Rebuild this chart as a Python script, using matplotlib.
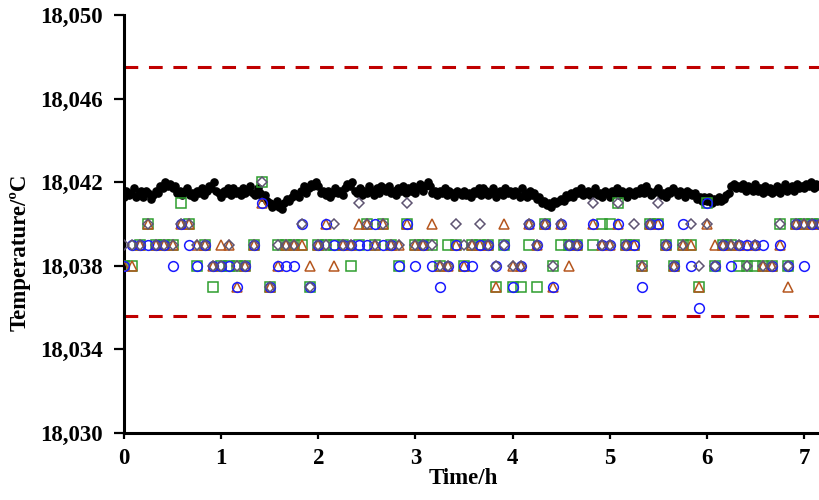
import numpy as np
import matplotlib.pyplot as plt
from matplotlib.ticker import FuncFormatter

plt.rcParams['font.family'] = ['Liberation Serif', 'DejaVu Serif']
plt.rcParams['font.weight'] = 'bold'

# reference sensor (black dots): 0.1 mK above 18.040 °C, one reading every 1.5 min
black_step_min = 1.5
black_01mK = [
    13, 16, 14, 15, 17, 13, 15, 16, 13, 16, 15, 12, 14, 16, 15, 18, 17, 20, 18, 19,
    17, 18, 15, 16, 14, 16, 17, 14, 15, 13, 16, 15, 17, 14, 16, 18, 17, 20, 16, 15,
    13, 16, 15, 17, 14, 17, 15, 16, 14, 17, 15, 16, 18, 15, 14, 17, 15, 13, 14, 11,
    10, 8, 9, 11, 8, 7, 10, 12, 11, 13, 15, 14, 13, 16, 18, 15, 17, 19, 18, 20,
    18, 15, 16, 14, 16, 13, 15, 17, 15, 16, 14, 17, 19, 18, 20, 16, 15, 17, 14, 16,
    15, 18, 16, 14, 17, 15, 18, 17, 16, 18, 15, 16, 14, 17, 16, 18, 15, 17, 16, 18,
    15, 17, 19, 16, 18, 20, 18, 15, 16, 14, 16, 15, 17, 14, 16, 15, 13, 16, 15, 14,
    16, 14, 15, 13, 16, 15, 17, 14, 17, 16, 14, 15, 17, 13, 15, 16, 14, 17, 15, 16,
    14, 16, 15, 13, 17, 15, 13, 16, 14, 15, 12, 13, 10, 11, 9, 10, 8, 11, 10, 11,
    12, 11, 14, 13, 15, 13, 16, 15, 17, 14, 15, 16, 14, 15, 17, 14, 15, 13, 16, 15,
    13, 16, 15, 17, 14, 16, 15, 13, 16, 15, 14, 16, 15, 17, 15, 18, 16, 14, 15, 16,
    17, 14, 15, 13, 16, 15, 17, 16, 14, 16, 15, 13, 16, 15, 14, 15, 12, 13, 11, 13,
    11, 13, 10, 12, 11, 13, 11, 12, 14, 15, 18, 19, 17, 18, 17, 19, 16, 18, 17, 16,
    19, 16, 17, 15, 18, 16, 17, 15, 16, 18, 15, 17, 19, 16, 17, 18, 16, 19, 17, 18,
    17, 19, 18, 20, 17, 19, 18,
]

# other sensors: mK above 18.030 °C, one reading every 5 min (None = no reading)
marker_step_min = 5
circle_mK = [
    8, 9, 9, 9, 9, 9, 8, 10, 9, 8, 9, 8, 8, 8, 7, 8, 9, 11, 7, 8,
    8, 8, 10, 7, 9, 10, 9, 9, 9, 9, 9, 10, 9, 9, 8, 10, 8, 9, 8, 7,
    8, 9, 8, 8, 9, 9, 8, 9, 7, 8, 10, 9, 10, 7, 10, 9, 9, None, 10, 9,
    9, 10, 9, 9, 7, 10, 10, 9, 8, 10, 8, 6, 11, 8, 9, 8, 9, 9, 9, 9,
    8, 9, 8, 10, 8, 10, 10,
]
square_mK = [
    8, 8, 9, 10, 9, 9, 9, 11, 10, 8, 9, 7, 8, 8, 8, 8, 9, 12, 7, 9,
    9, 9, 9, 7, 9, 9, 9, 9, 8, 9, 10, 9, 10, 9, 8, 10, 9, 9, 9, 8,
    9, 9, 8, 9, 9, 9, 7, 9, 7, 7, 9, 7, 10, 8, 9, 9, 9, None, 9, 10,
    10, 11, 9, 9, 8, 10, 10, 9, 8, 9, 9, 7, 11, 8, 9, 9, 8, 8, 8, 8,
    8, 10, 8, 10, 10, 10, 10,
]
triangle_mK = [
    8, 8, 9, 10, 9, 9, 9, 10, 10, 9, 9, 8, 9, 9, 7, 8, 9, 11, 7, 8,
    9, 9, 9, 8, 9, 10, 8, 9, 9, 10, 10, 9, 10, 9, 9, 10, 9, 9, 10, 8,
    8, 9, 8, 9, 9, 9, 7, 10, 8, 8, 10, 9, 10, 7, 10, 8, 9, None, 10, 9,
    9, 10, 9, 9, 8, 10, 10, 9, 8, 9, 9, 7, 10, 9, 9, 9, 9, 9, 9, 8,
    8, 9, 7, 10, 10, 10, 10,
]
diamond_mK = [
    9, 9, 9, 10, 9, 9, 9, 10, 10, 9, 9, 8, 8, 9, 8, 8, 9, 12, 7, 9,
    9, 9, 10, 7, 9, 9, 10, 9, 9, 11, 10, 9, 10, 9, 9, 11, 9, 9, 9, 8,
    8, 10, 9, 9, 10, 9, 8, 9, 8, 8, 10, 9, 10, 8, 10, 9, 9, None, 11, 9,
    9, 11, 9, 10, 8, 10, 11, 9, 8, 9, 10, 8, 10, 8, 9, 9, 9, 8, 9, 8,
    8, 10, 8, 10, 10, 10, 10,
]

upper_limit = 18.0475
lower_limit = 18.0356
y_ticks = [18.030, 18.034, 18.038, 18.042, 18.046, 18.050]
x_ticks = [0, 1, 2, 3, 4, 5, 6, 7]


def to_temp(vals, base, unit):
    return base + np.array(vals, dtype=float) * unit


t_black = np.arange(len(black_01mK)) * black_step_min / 60
y_black = to_temp(black_01mK, 18.040, 0.0001)
t_mark = np.arange(len(circle_mK)) * marker_step_min / 60

fig = plt.figure(figsize=(8.19, 5.0), dpi=100)
ax = fig.add_axes([124 / 819, 67 / 500, 695 / 819, 418 / 500])

ax.plot(t_black, y_black, ls='none', marker='o', ms=5.2, color='black', zorder=2)

series = [
    (square_mK, 's', '#2e9e2e', 6.8),
    (triangle_mK, '^', '#b5561e', 7.0),
    (circle_mK, 'o', '#1a1aff', 7.0),
    (diamond_mK, 'D', '#5e5472', 5.0),
]
for vals, mk, col, size in series:
    ax.plot(t_mark, to_temp(vals, 18.030, 0.001), ls='none', marker=mk, ms=size,
            mfc='none', mec=col, mew=1.1, zorder=3)

for lim in (upper_limit, lower_limit):
    ax.axhline(lim, color='#c00000', lw=2.2, dashes=(4.5, 3.5), zorder=1)

ax.set_xlim(0, 7.155)
ax.set_ylim(18.030, 18.050)
ax.set_xticks(x_ticks)
ax.set_yticks(y_ticks)
ax.yaxis.set_major_formatter(FuncFormatter(lambda v, p: f'{v:.3f}'.replace('.', ',')))

for side in ('top', 'right'):
    ax.spines[side].set_visible(False)
for side in ('left', 'bottom'):
    ax.spines[side].set_linewidth(2.2)
ax.tick_params(direction='out', width=1.6, labelsize=16.5)
ax.tick_params(axis='y', length=7, pad=8)
ax.tick_params(axis='x', length=4, pad=7)

fig.text(463 / 819, 1 - 478 / 500, 'Time/h', ha='center', va='center',
         fontsize=16.5, fontweight='bold')
fig.text(20 / 819, 1 - 252 / 500, 'Temperature/ºC', ha='center', va='center',
         rotation=90, fontsize=16.5, fontweight='bold')

fig.savefig('out.png', dpi=100)
